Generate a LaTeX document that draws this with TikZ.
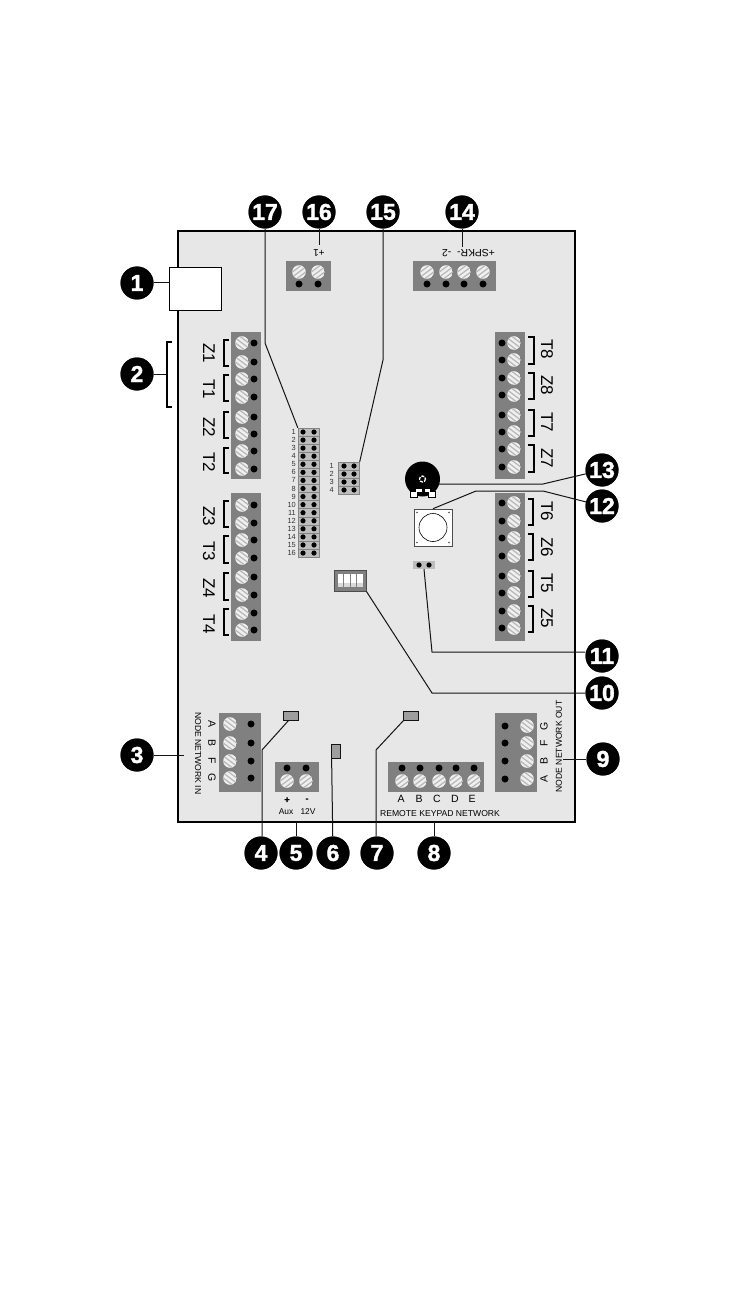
\documentclass[tikz,border=0pt]{standalone}
\usepackage{fontspec}
\setmainfont{Liberation Sans}[BoldFeatures={FakeBold=1.6}]
\definecolor{boardgray}{gray}{0.905}
\definecolor{blockgray}{gray}{0.5}
\definecolor{leadercol}{gray}{0.08}
\definecolor{ledgray}{gray}{0.62}
\definecolor{cellgray}{gray}{0.74}
\definecolor{darktext}{gray}{0.2}
\tikzset{
  x=1pt,y=-1pt,
  board/.style={draw=black,line width=1.5pt,fill=boardgray},
  tblock/.style={fill=blockgray,draw=none},
  callout/.style={circle,fill=black,text=white,minimum size=33pt,inner sep=0pt,font=\fontsize{23}{23}\selectfont\bfseries},
  leader/.style={draw=leadercol,line width=1pt},
  brk/.style={draw=black,line width=1.2pt},
  zlabel/.style={rotate=-90,font=\fontsize{17}{17}\selectfont,inner sep=0pt},
  tiny/.style={font=\fontsize{8.6}{9}\selectfont,inner sep=0pt},
  numlab/.style={font=\fontsize{7.4}{8}\selectfont,inner sep=0pt,text=darktext},
  led/.style={draw=leadercol,fill=ledgray,line width=0.8pt,inner sep=0pt},
}
\newcommand{\screw}[2]{%
  \begin{scope}
    \clip (#1,#2) circle[radius=6.8];
    \fill[gray!12] (#1,#2) circle[radius=6.8];
    \foreach \k in {-5,0,5}{\draw[gray!55,line width=1.3pt] (#1-8,#2+\k+6) -- (#1+8,#2+\k-6);}
  \end{scope}%
}
\newcommand{\screwd}[2]{%
  \begin{scope}
    \clip (#1,#2) circle[radius=6.8];
    \fill[gray!12] (#1,#2) circle[radius=6.8];
    \foreach \k in {-5,0,5}{\draw[gray!55,line width=1.3pt] (#1-8,#2+\k-6) -- (#1+8,#2+\k+6);}
  \end{scope}%
}
\begin{document}
\begin{tikzpicture}
\useasboundingbox (0,0) rectangle (738,1305);
\fill[white] (0,0) rectangle (738,1305);
% board
\path[board] (178,231) rectangle (575,822);
% USB
\node[draw=black,fill=white,line width=1.5pt,minimum width=52pt,minimum height=43pt,inner sep=0pt] (usb) at (195.5,289) {};

% ---- zone terminal blocks
\fill[tblock] (231,332) rectangle (261,479);
\fill[tblock] (231,493) rectangle (261,641);
\fill[tblock] (495,332) rectangle (525,479);
\fill[tblock] (495,493) rectangle (525,641);
\foreach \y in {343,362,379,397,417,434,451,469,505,523,540,558,577,595,613,630}{
  \screwd{242}{\y}\fill[black] (254,\y) circle[radius=3.5];}
\foreach \y in {343,360,378,395,415,432,449,467,503,521,538,556,576,593,611,628}{
  \screwd{514}{\y}\fill[black] (502,\y) circle[radius=3.5];}
% brackets left
\foreach \a/\b in {340/366,375/401,412/438,448/473,501/527,536/563,573/600,609/635}{
  \draw[brk] (229,\a) -- (224,\a) -- (224,\b) -- (229,\b);}
% brackets right
\foreach \a/\b in {337/364,373/399,410/436,445/472}{
  \draw[brk] (528,\a) -- (534,\a) -- (534,\b) -- (528,\b);}
\foreach \a/\b in {499/525,534/560,571/597,606/632}{
  \draw[brk] (528,\a) -- (533,\a) -- (533,\b) -- (528,\b);}
% zone labels
\foreach \t/\x/\y [count=\i] in {Z1/209/353,T1/209/389,Z2/209/427,T2/209/462,Z3/209/516,T3/209/551,Z4/209/588,T4/209/624,T8/547/349,Z8/547/385,T7/547/422,Z7/547/458,T6/547/511,Z6/547/547,T5/547/583,Z5/547/618}{
  \node[zlabel] (zl\i) at (\x,\y) {\t};}

% ---- top blocks
\fill[tblock] (286,261) rectangle (331,291);
\fill[tblock] (413,261) rectangle (496,291);
\foreach \x in {299,318,427,446,464,483}{
  \screw{\x}{272}\fill[black] (\x,284) circle[radius=3.5];}
\node[tiny,rotate=180,font=\fontsize{10}{10}\selectfont] (plusone) at (319,253) {+1};
\node[tiny,rotate=180,font=\fontsize{10.4}{10}\selectfont] (spkr) at (468.5,253) {+SPKR-\ \ -2};

% ---- bottom blocks
\fill[tblock] (219,713) rectangle (261,792);
\fill[tblock] (495,713) rectangle (537,792);
\fill[tblock] (275,762) rectangle (319,792);
\fill[tblock] (388,762) rectangle (484,792);
\foreach \y in {724,743,761,778}{\screwd{230}{\y}\fill[black] (251,\y) circle[radius=3.5];}
\foreach \y in {726,743,761,779}{\screwd{527}{\y}\fill[black] (505,\y) circle[radius=3.5];}
\foreach \x in {287,306,402,420,439,456,474}{\screw{\x}{781}\fill[black] (\x,768) circle[radius=3.5];}
% bottom labels
\foreach \t/\y [count=\i] in {A/724,B/743,F/761,G/778}{\node[tiny,rotate=-90,font=\fontsize{10.5}{10}\selectfont] (nl\i) at (212,\y) {\t};}
\foreach \t/\y [count=\i] in {A/779,B/761,F/743,G/726}{\node[tiny,rotate=90,font=\fontsize{10.5}{10}\selectfont] (nr\i) at (544,\y) {\t};}
\node[tiny,rotate=-90] (nin) at (198,753.5) {NODE NETWORK IN};
\node[tiny,rotate=90] (nout) at (559,746.5) {NODE NETWORK OUT};
\foreach \t/\x [count=\i] in {A/401,B/419,C/437,D/455,E/472}{\node[tiny,font=\fontsize{10.5}{10}\selectfont] (kl\i) at (\x,799) {\t};}
\node[tiny] (rkn) at (440,813.5) {REMOTE KEYPAD NETWORK};
\node[tiny,font=\fontsize{9}{9}\selectfont\bfseries] (pl) at (287,800) {+};
\node[tiny,font=\fontsize{9}{9}\selectfont\bfseries] (mi) at (307,800) {-};
\node[tiny,font=\fontsize{8.4}{8}\selectfont] (aux) at (286,812) {Aux};
\node[tiny,font=\fontsize{8.4}{8}\selectfont] (tv) at (308,812) {12V};

% ---- 16x2 header
\foreach \i in {1,...,16}{
  \pgfmathsetmacro{\yy}{432+(\i-1)*8.07}
  \path[fill=cellgray,draw=cellgray!70!black,line width=0.4pt] (298,\yy-4.03) rectangle (319.5,\yy+4.03);
  \fill[black] (303,\yy) circle[radius=2.6];
  \fill[black] (314,\yy) circle[radius=2.6];
  \node[numlab,anchor=east] at (296,\yy) {\i};
}
\node[inner sep=0pt,minimum width=21.5pt,minimum height=129pt] (hdr) at (308.75,492.5) {};
% ---- 4x2 header
\foreach \i in {1,...,4}{
  \pgfmathsetmacro{\yy}{466+(\i-1)*8}
  \path[fill=cellgray,draw=cellgray!70!black,line width=0.4pt] (338,\yy-4) rectangle (359.5,\yy+4);
  \fill[black] (344,\yy) circle[radius=2.6];
  \fill[black] (354,\yy) circle[radius=2.6];
  \node[numlab,anchor=east] at (334,\yy) {\i};
}
\node[inner sep=0pt,minimum width=21.5pt,minimum height=32pt] (hdrb) at (348.75,478) {};

% ---- pot
\fill[black] (422.5,479) circle[radius=17.5];
\node[inner sep=0pt,minimum size=0pt] (pot) at (438,484) {};
\path[fill=white,draw=black,line width=0.8pt] (410,497) -- (410,491) -- (415,491) -- (415,488.5) -- (422,488.5) -- (422,492) -- (417,492) -- (417,497) -- cycle;
\path[fill=white,draw=black,line width=0.8pt] (435,497) -- (435,491) -- (430,491) -- (430,488.5) -- (424,488.5) -- (424,492) -- (428,492) -- (428,497) -- cycle;
\draw[white,line width=1.3pt,dash pattern=on 3pt off 1.2pt] (422.5,479) circle[radius=3];

% ---- button
\node[draw=black!70,fill=white,line width=0.6pt,minimum width=38pt,minimum height=37pt,inner sep=0pt] (btn) at (433,527.5) {};
\draw[black,line width=0.6pt] (btn.center) circle[radius=14];
\foreach \dx/\dy in {-16/-15,16/-15,-16/15,16/15}{\fill[black!70] (433+\dx,527.5+\dy) circle[radius=0.8];}

% ---- 2-pin jumper
\node[fill=cellgray,inner sep=0pt,minimum width=22pt,minimum height=8pt] (jmp) at (424,565) {};
\fill[black] (419,565) circle[radius=2.6];
\fill[black] (429,565) circle[radius=2.6];

% ---- DIP
\node[fill=blockgray,draw=black!70,line width=0.8pt,minimum width=32pt,minimum height=21pt,inner sep=0pt] (dip) at (350,580.5) {};
\foreach \x in {337.5,344,350.5,357}{\fill[white] (\x,574) rectangle (\x+5.5,587);\fill[gray!30] (\x,583) rectangle (\x+5.5,587);}

% ---- LEDs
\node[led,minimum width=15pt,minimum height=9pt] (led4) at (290.5,715.5) {};
\node[led,minimum width=9pt,minimum height=14pt] (led6) at (335.5,751) {};
\node[led,minimum width=15pt,minimum height=9pt] (led7) at (410.5,715.5) {};

% ---- callouts (placed first so that leaders can name them)
\foreach \n/\x/\y in {1/137/283,2/137/374,3/137/755,4/261/853,5/296/853,6/333/853,7/377/853,8/434/853,9/603/759,10/602/693,11/602/656,12/602/506,13/602/470,14/462/212,15/383/212,16/319/212,17/265/212}{
  \node[callout] (c\n) at (\x,\y) {\n};}

% ---- free-end coordinates
\coordinate (bk) at (167,374);
\coordinate (e3) at (184,755);
\coordinate (e5) at (296,822);
\coordinate (e8) at (434,822);
\coordinate (e9) at (563,759);
\coordinate (e14) at (462,247);
\coordinate (e16) at (319,245);
\coordinate (b17) at (265,343);
\coordinate (b15) at (383,360);
\coordinate (b13) at (543,484);
\coordinate (b12a) at (476,491);
\coordinate (b12b) at (543,491);
\coordinate (b11) at (432,652);
\coordinate (b10) at (432,693);
\coordinate (b4) at (262,750);
\coordinate (b7) at (376,750);

% ---- leaders
\draw[leader] (c1) -- (c1 -| usb.west);
\draw[leader] (c2) -- (bk);
\draw[brk] (172,342) -- (167,342) -- (167,407) -- (172,407);
\draw[leader] (c3) -- (e3);
\draw[leader] (led4.south west) ++(6,0) -- (b4) -- (c4.north -| b4);
\draw[leader] (c5) -- (e5);
\draw[leader] (led6.south west) ++(1,0) -- (c6);
\draw[leader] (led7.south west) ++(1,0) -- (b7) -- (c7.north -| b7);
\draw[leader] (c8) -- (e8);
\draw[leader] (c9) -- (e9);
\draw[leader] (dip.south east) -- (b10) -- (c10);
\draw[leader] (jmp.south) -- (b11) -- (c11.west |- b11);
\draw[leader] (btn.north) -- (b12a) -- (b12b) -- (c12);
\draw[leader] (pot) -- (b13) -- (c13);
\draw[leader] (c14) -- (e14);
\draw[leader] (c15) -- (b15) -- (hdrb.north east);
\draw[leader] (c16) -- (e16);
\draw[leader] (c17) -- (b17) -- (hdr.north west);
% callouts again, on top of the leaders
\foreach \n/\x/\y in {1/137/283,2/137/374,3/137/755,4/261/853,5/296/853,6/333/853,7/377/853,8/434/853,9/603/759,10/602/693,11/602/656,12/602/506,13/602/470,14/462/212,15/383/212,16/319/212,17/265/212}{
  \node[callout] at (\x,\y) {\n};}
\end{tikzpicture}
\end{document}
